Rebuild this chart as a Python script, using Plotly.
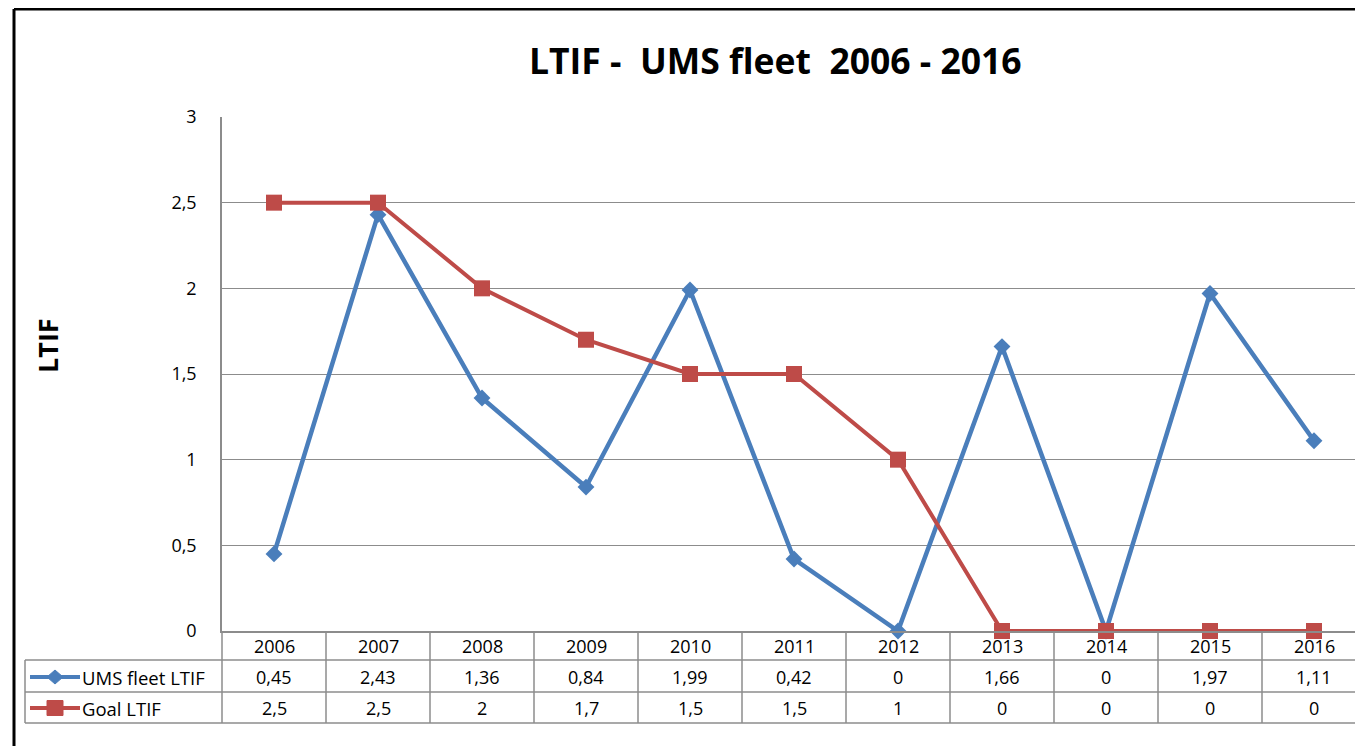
import plotly.graph_objects as go

years = ["2006", "2007", "2008", "2009", "2010", "2011", "2012", "2013", "2014", "2015", "2016"]
ums_ltif = [0.45, 2.43, 1.36, 0.84, 1.99, 0.42, 0, 1.66, 0, 1.97, 1.11]
goal_ltif = [2.5, 2.5, 2, 1.7, 1.5, 1.5, 1, 0, 0, 0, 0]
ums_labels = ["0,45", "2,43", "1,36", "0,84", "1,99", "0,42", "0", "1,66", "0", "1,97", "1,11"]
goal_labels = ["2,5", "2,5", "2", "1,7", "1,5", "1,5", "1", "0", "0", "0", "0"]
y_ticks = [0, 0.5, 1, 1.5, 2, 2.5, 3]
y_tick_text = ["0", "0,5", "1", "1,5", "2", "2,5", "3"]

BLUE = "#4a7ebb"
RED = "#be4b48"
GRID = "#8c8c8c"
FONT = "Open Sans, sans-serif"

OFF = 8  # page body margin
W, H = 1363 - OFF, 746 - OFF
# target screen coordinates (page pixels)
PL, PT, PR, PB = 222, 117, 1363, 631
L, T = PL - OFF, PT - OFF
R = 0
B = H - (PB - OFF)
PW = W - L - R
PH = H - T - B
CAT = 104.0  # px per category
xmax = -0.5 + PW / CAT

def py(Y):  # screen pixel y -> paper y
    return ((PB) - Y) / PH

def px(X):  # screen pixel x -> paper x
    return (X - PL) / PW

x = list(range(len(years)))

fig = go.Figure()
fig.add_trace(go.Scatter(
    x=x, y=ums_ltif, mode="lines+markers", name="UMS fleet LTIF",
    line=dict(color=BLUE, width=4.5),
    marker=dict(symbol="diamond", size=13, color=BLUE),
    cliponaxis=False,
))
fig.add_trace(go.Scatter(
    x=x, y=goal_ltif, mode="lines+markers", name="Goal LTIF",
    line=dict(color=RED, width=4),
    marker=dict(symbol="square", size=16, color=RED),
    cliponaxis=False,
))

shapes = []
# outer black border
shapes.append(dict(type="line", xref="paper", yref="paper", x0=px(14), x1=px(14), y0=py(9), y1=py(760),
                   line=dict(color="black", width=3)))
shapes.append(dict(type="line", xref="paper", yref="paper", x0=px(14), x1=px(1370), y0=py(9), y1=py(9),
                   line=dict(color="black", width=3)))
# table horizontal lines
for Y, x0 in [(660, 25), (692, 25), (723, 25)]:
    shapes.append(dict(type="line", xref="paper", yref="paper", x0=px(x0), x1=px(1370), y0=py(Y), y1=py(Y),
                       line=dict(color=GRID, width=1.5)))
# table vertical lines
shapes.append(dict(type="line", xref="paper", yref="paper", x0=px(25), x1=px(25), y0=py(660), y1=py(723),
                   line=dict(color=GRID, width=1.5)))
shapes.append(dict(type="line", xref="paper", yref="paper", x0=0, x1=0, y0=py(631), y1=py(723),
                   line=dict(color=GRID, width=1.5)))
for k in range(1, len(years)):
    shapes.append(dict(type="line", xref="x", yref="paper", x0=k - 0.5, x1=k - 0.5, y0=py(631), y1=py(723),
                       line=dict(color=GRID, width=1.5)))
# legend keys
for Y, col, sym in [(677, BLUE, "diamond"), (708, RED, "square")]:
    shapes.append(dict(type="line", xref="paper", yref="paper", x0=px(30), x1=px(80), y0=py(Y), y1=py(Y),
                       line=dict(color=col, width=4)))
    if sym == "diamond":
        cx, cy, rx, ry = 55, Y, 8, 7
        path = "M {} {} L {} {} L {} {} L {} {} Z".format(px(cx - rx), py(cy), px(cx), py(cy - ry),
                                                         px(cx + rx), py(cy), px(cx), py(cy + ry))
        shapes.append(dict(type="path", xref="paper", yref="paper", path=path,
                           fillcolor=col, line=dict(color=col, width=1)))
    else:
        shapes.append(dict(type="rect", xref="paper", yref="paper", x0=px(47), x1=px(63), y0=py(Y - 7.5), y1=py(Y + 7.5),
                           fillcolor=col, line=dict(color=col, width=1)))

TF = dict(size=18, color="black", family=FONT)
annotations = []
for i, yr in enumerate(years):
    for Y, txt in [(646, yr), (677, ums_labels[i]), (708, goal_labels[i])]:
        annotations.append(dict(x=i, y=py(Y), xref="x", yref="paper", text=txt, showarrow=False,
                                xanchor="center", yanchor="middle", font=TF))
annotations.append(dict(x=px(80), y=py(677), xref="paper", yref="paper", text="UMS fleet LTIF", showarrow=False,
                        xanchor="left", yanchor="middle", font=dict(size=18.5, color="black", family=FONT)))
annotations.append(dict(x=px(80), y=py(708), xref="paper", yref="paper", text="Goal LTIF", showarrow=False,
                        xanchor="left", yanchor="middle", font=dict(size=18.5, color="black", family=FONT)))
annotations.append(dict(x=px(47), y=py(346), xref="paper", yref="paper", text="<b>LTIF</b>", showarrow=False,
                        xanchor="center", yanchor="middle",
                        textangle=-90, font=dict(size=27, color="black", family=FONT)))
annotations.append(dict(x=px(775), y=py(60), xref="paper", yref="paper",
                        text="<b>LTIF -\u00a0\u00a0UMS fleet\u00a0\u00a02006 - 2016</b>",
                        xanchor="center", yanchor="middle",
                        showarrow=False, font=dict(size=35.5, color="black", family=FONT)))

fig.update_layout(
    width=W, height=H,
    margin=dict(l=L, r=R, t=T, b=B),
    paper_bgcolor="white", plot_bgcolor="white",
    showlegend=False,
    shapes=shapes,
    annotations=annotations,
    xaxis=dict(range=[-0.5, xmax], showticklabels=False, showgrid=False, zeroline=False,
               showline=True, linecolor=GRID, linewidth=1.5, ticks=""),
    yaxis=dict(range=[0, 3], tickvals=y_ticks, ticktext=y_tick_text, showgrid=True, gridcolor=GRID,
               gridwidth=1.2, zeroline=False, showline=True, linecolor=GRID, linewidth=1.5,
               ticks="", ticklabelstandoff=20, tickfont=dict(size=18, color="black", family=FONT)),
)

fig.write_html("out.html")
